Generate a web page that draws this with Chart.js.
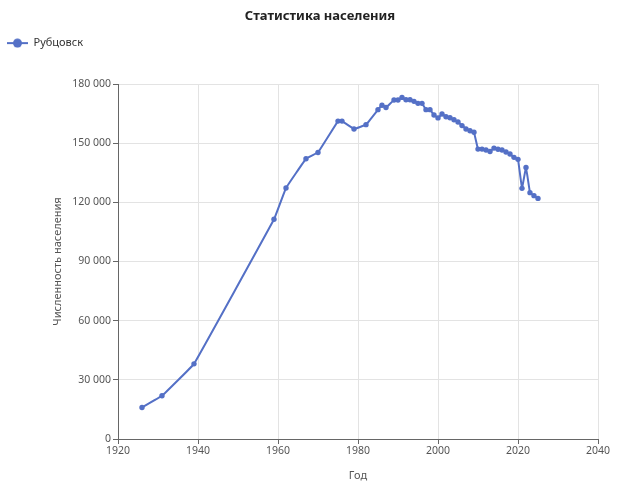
<!DOCTYPE html>
<html>
<head>
<meta charset="utf-8">
<script src="https://cdn.jsdelivr.net/npm/chart.js@4.4.1/dist/chart.umd.min.js"></script>
<style>
  html, body { margin: 0; padding: 0; background: #fff; }
  #wrap { width: 640px; height: 491px; }
</style>
</head>
<body>
<div id="wrap"><canvas id="chart"></canvas></div>
<script>
const cityName = 'Рубцовск';

const years = [
  1926, 1931, 1939, 1959, 1962, 1967, 1970, 1975, 1976, 1979, 1982, 1985, 1986, 1987,
  1989, 1990, 1991, 1992, 1993, 1994, 1995, 1996, 1997, 1998, 1999, 2000, 2001, 2002,
  2003, 2004, 2005, 2006, 2007, 2008, 2009, 2010, 2011, 2012, 2013, 2014, 2015, 2016,
  2017, 2018, 2019, 2020, 2021, 2022, 2023, 2024, 2025
];
const population = [
  16000, 21900, 38100, 111400, 127300, 142100, 145300, 161200, 161200, 157200, 159400, 167000, 169200, 168100,
  171900, 171900, 173200, 172000, 172000, 171200, 170200, 170200, 167000, 167000, 164300, 162800, 164800, 163400,
  162900, 161900, 160700, 158900, 157200, 156300, 155500, 147000, 147000, 146500, 145800, 147500, 146900, 146500,
  145500, 144500, 142800, 141800, 127100, 137700, 124900, 123400, 122000
];

const yearTicks = [1920, 1940, 1960, 1980, 2000, 2020, 2040];
const popTicks = [0, 30000, 60000, 90000, 120000, 150000, 180000];

const lineColor = '#5470C6';
const axisColor = '#666';
const labelColor = '#555';
const gridColor = '#E3E3E3';
const font = "'Noto Sans', sans-serif";

// space as thousands separator, like "180 000"
function fmt(v) {
  return String(v).replace(/\B(?=(\d{3})+(?!\d))/g, ' ');
}

// legend icon: short line with a dot in the middle
function legendIcon() {
  const c = document.createElement('canvas');
  c.width = 21; c.height = 10;
  const g = c.getContext('2d');
  g.strokeStyle = lineColor; g.lineWidth = 2;
  g.beginPath(); g.moveTo(0, 5); g.lineTo(21, 5); g.stroke();
  g.fillStyle = lineColor;
  g.beginPath(); g.arc(10.5, 5, 4.5, 0, Math.PI * 2); g.fill();
  return c;
}
const icon = legendIcon();

// empty layout boxes to push the plot area into place
function spacer(position, size, weight) {
  return {
    position, weight, fullSize: false, options: {},
    isHorizontal() { return position === 'top' || position === 'bottom'; },
    update(maxWidth, maxHeight) {
      if (this.isHorizontal()) { this.width = maxWidth; this.height = size; }
      else { this.width = size; this.height = maxHeight; }
    },
    draw() {}
  };
}
const spacers = {
  id: 'spacers',
  beforeInit(chart) {
    Chart.layouts.addBox(chart, spacer('top', 25.4, 500));
    Chart.layouts.addBox(chart, spacer('right', 42, 0));
  }
};

new Chart(document.getElementById('chart'), {
  type: 'line',
  data: {
    datasets: [{
      label: cityName,
      data: years.map((y, i) => ({ x: y, y: population[i] })),
      borderColor: lineColor,
      backgroundColor: lineColor,
      borderWidth: 2,
      pointRadius: 2.7,
      pointBorderWidth: 0,
      tension: 0.05
    }]
  },
  options: {
    responsive: true,
    maintainAspectRatio: false,
    animation: false,
    layout: { padding: 0 },
    plugins: {
      tooltip: { enabled: false },
      title: {
        display: true,
        text: 'Статистика населения',
        color: '#222',
        font: { family: font, size: 13, weight: 'bold' },
        padding: { top: 8, bottom: 7 }
      },
      legend: {
        align: 'start',
        labels: {
          usePointStyle: true,
          pointStyleWidth: 21,
          padding: 7,
          color: '#333',
          font: { family: font, size: 11 },
          generateLabels(chart) {
            const items = Chart.defaults.plugins.legend.labels.generateLabels(chart);
            items.forEach(it => { it.pointStyle = icon; });
            return items;
          }
        }
      }
    },
    scales: {
      x: {
        type: 'linear',
        min: yearTicks[0],
        max: yearTicks[yearTicks.length - 1],
        afterBuildTicks(s) { s.ticks = yearTicks.map(v => ({ value: v })); },
        afterFit(s) { s.height = 52; },
        border: { color: axisColor, width: 1 },
        grid: { color: gridColor, tickColor: axisColor, tickLength: 5 },
        ticks: { color: labelColor, padding: 1, font: { family: font, size: 10.5 }, maxRotation: 0, callback: v => String(v) },
        title: {
          display: true, text: 'Год', color: labelColor,
          font: { family: font, size: 11 }, padding: { top: 0, bottom: 8.4 }
        }
      },
      y: {
        min: popTicks[0],
        max: popTicks[popTicks.length - 1],
        afterBuildTicks(s) { s.ticks = popTicks.map(v => ({ value: v })); },
        afterFit(s) { s.width = 118; },
        border: { color: axisColor, width: 1 },
        grid: { color: gridColor, tickColor: axisColor, tickLength: 5 },
        ticks: { color: labelColor, padding: 2, font: { family: font, size: 10.5 }, callback: v => fmt(v) },
        title: {
          display: true, text: 'Численность населения', color: labelColor,
          font: { family: font, size: 11 }, padding: { top: 51, bottom: 0 }
        }
      }
    }
  },
  plugins: [spacers]
});
</script>
</body>
</html>
